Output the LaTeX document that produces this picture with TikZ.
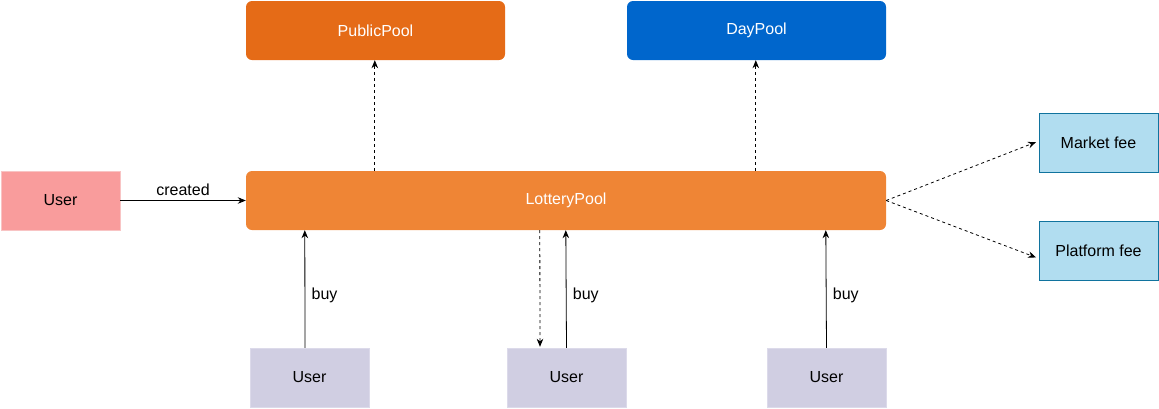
\documentclass[tikz,border=0pt]{standalone}
\usepackage{fontspec}
\setmainfont{Liberation Sans}
\usetikzlibrary{arrows.meta,calc}

\definecolor{publicorange}{HTML}{E56B17}
\definecolor{dayblue}{HTML}{0066CC}
\definecolor{lotteryorange}{HTML}{EF8535}
\definecolor{userpink}{HTML}{F99C9C}
\definecolor{userpinkline}{HTML}{F8C4C4}
\definecolor{userlilac}{HTML}{D0CEE2}
\definecolor{userlilacline}{HTML}{DCDAEA}
\definecolor{feeblue}{HTML}{B1DDF0}
\definecolor{feeline}{HTML}{10739E}

\tikzset{
  pool/.style={rounded corners=6pt, inner sep=0pt, text=white,
    minimum height=59pt, font=\fontsize{16}{19}\selectfont},
  userbox/.style={draw, inner sep=0pt, minimum width=119pt, minimum height=59pt,
    font=\fontsize{16}{19}\selectfont},
  feebox/.style={draw=feeline, fill=feeblue, inner sep=0pt, minimum width=119pt,
    minimum height=59pt, font=\fontsize{16}{19}\selectfont},
  flow/.style={-{Stealth[length=8pt,width=6.5pt]}, line width=0.8pt},
  share/.style={flow, dashed},
  lbl/.style={font=\fontsize{16}{19}\selectfont}
}

\begin{document}
\begin{tikzpicture}[x=1pt, y=-1pt]
\useasboundingbox (0,0) rectangle (1159,408);

% Pools
\node[pool, fill=publicorange, minimum width=259pt] (public) at (375.5,30.5) {PublicPool};
\node[pool, fill=dayblue, minimum width=259pt] (day) at (756.5,30.5) {DayPool};
\node[pool, fill=lotteryorange, minimum width=640pt] (lottery) at (566,200.5) {LotteryPool};

% Users
\node[userbox, draw=userpinkline, fill=userpink] (creator) at (60.5,200.5) {User};
\node[userbox, draw=userlilacline, fill=userlilac] (buyerA) at (309.5,377.5) {User};
\node[userbox, draw=userlilacline, fill=userlilac] (buyerB) at (566.5,377.5) {User};
\node[userbox, draw=userlilacline, fill=userlilac] (buyerC) at (826.5,377.5) {User};

% Fees
\node[feebox] (market) at (1098.5,143) {Market fee};
\node[feebox] (platform) at (1098.5,250.5) {Platform fee};

% Creation
\draw[flow] (creator) -- (lottery) node[lbl, midway, above=1pt] {created};

% Shares to the pools
\draw[share] ($(lottery.north west)+(129,0)$) -- ($(public.south west)+(129,0)$);
\draw[share] ($(lottery.north west)+(510,0)$) -- ($(day.south west)+(129,0)$);

% Fees
\draw[share, shorten >=3pt] (lottery.east) -- ($(market.west)+(0,-2)$);
\draw[share, shorten >=3pt] (lottery.east) -- ($(platform.west)+(0,8)$);

% Buying
\draw[flow] ($(buyerA.north)+(-4.5,0)$) -- ($(lottery.south west)+(59,0)$)
  node[lbl, pos=0.45, right=3pt] {buy};
\draw[flow] (buyerB.north) -- ($(lottery.south west)+(320,0)$)
  node[lbl, pos=0.45, right=3pt] {buy};
\draw[flow] (buyerC.north) -- ($(lottery.south west)+(580,0)$)
  node[lbl, pos=0.45, right=3pt] {buy};

% Payout back to a buyer
\draw[share] ($(lottery.south west)+(294,0)$) -- ($(buyerB.north)+(-26.5,-1)$);

\end{tikzpicture}
\end{document}
